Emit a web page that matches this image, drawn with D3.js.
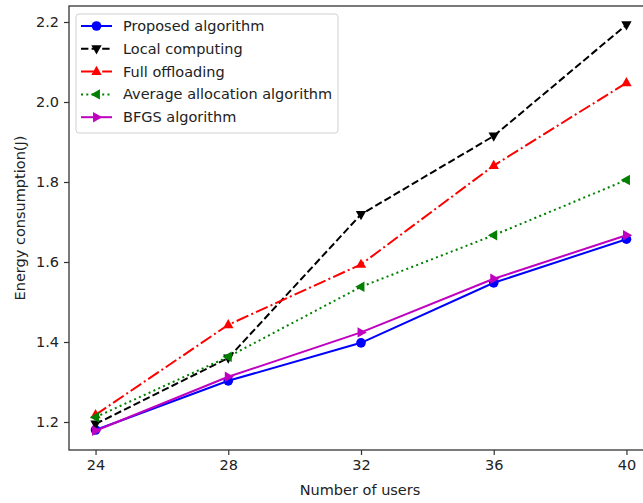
<!DOCTYPE html>
<html>
<head>
<meta charset="utf-8">
<script src="https://cdn.jsdelivr.net/npm/d3@7"></script>
<style>
  body { margin: 0; background: #fff; }
  svg { display: block; font-family: "DejaVu Sans", sans-serif; }
</style>
</head>
<body>
<script>
// data
var users = [24, 28, 32, 36, 40];
var proposed = [1.180, 1.303, 1.398, 1.548, 1.657];
var local = [1.195, 1.360, 1.719, 1.915, 2.193];
var fullOff = [1.218, 1.443, 1.594, 1.841, 2.048];
var average = [1.212, 1.363, 1.538, 1.667, 1.805];
var bfgs = [1.178, 1.313, 1.424, 1.558, 1.667];
var xTicks = [24, 28, 32, 36, 40];
var yTicks = [1.2, 1.4, 1.6, 1.8, 2.0, 2.2];

var series = [
	{name: 'Proposed algorithm', values: proposed, color: '#0000ff', dash: null, marker: 'circle'},
	{name: 'Local computing', values: local, color: '#000000', dash: '7.4,3.2', marker: 'down'},
	{name: 'Full offloading', values: fullOff, color: '#ff0000', dash: '12.8,3.2,2,3.2', marker: 'up'},
	{name: 'Average allocation algorithm', values: average, color: '#008000', dash: '2,3.3', marker: 'left'},
	{name: 'BFGS algorithm', values: bfgs, color: '#bf00bf', dash: null, marker: 'right'}
];

var W = 643, H = 503;
var margin = {left: 69, top: 6, bottom: 450, right: 653};
var fontSize = '14.5px';

var x = d3.scaleLinear().domain([23.2, 40.8]).range([margin.left, margin.right]);
var y = d3.scaleLinear().domain([1.13, 2.24]).range([margin.bottom, margin.top]);

var svg = d3.select('body').append('svg')
	.attr('width', W)
	.attr('height', H);

// axes
var xAxis = d3.axisBottom(x).tickValues(xTicks).tickSize(5).tickPadding(5).tickFormat(d3.format('d'));
var yAxis = d3.axisLeft(y).tickValues(yTicks).tickSize(5).tickPadding(5).tickFormat(d3.format('.1f'));

var gx = svg.append('g').attr('transform', 'translate(0,' + margin.bottom + ')').call(xAxis);
var gy = svg.append('g').attr('transform', 'translate(' + margin.left + ',0)').call(yAxis);
[gx, gy].forEach(function(g) {
	g.select('.domain').remove();
	g.selectAll('line').attr('stroke', '#333').attr('stroke-width', 1.2);
	g.selectAll('text').attr('fill', '#222').style('font-size', fontSize).style('font-family', '"DejaVu Sans", sans-serif');
});

// spines
svg.append('rect')
	.attr('x', margin.left).attr('y', margin.top)
	.attr('width', margin.right - margin.left).attr('height', margin.bottom - margin.top)
	.attr('fill', 'none').attr('stroke', '#333').attr('stroke-width', 1.3);

// axis labels
svg.append('text')
	.attr('x', 360).attr('y', 495)
	.attr('text-anchor', 'middle')
	.attr('fill', '#222')
	.style('font-size', fontSize)
	.text('Number of users');

svg.append('text')
	.attr('transform', 'translate(25,' + 218 + ') rotate(-90)')
	.attr('text-anchor', 'middle')
	.attr('fill', '#222')
	.style('font-size', fontSize)
	.text('Energy consumption(J)');

// markers
function markerPath(type, s) {
	if (type === 'circle') return d3.symbol().type(d3.symbolCircle).size(s * 1.15)();
	var r = Math.sqrt(s) * 0.72;
	var pts;
	if (type === 'up') pts = [[0, -r], [r * 0.9, r * 0.6], [-r * 0.9, r * 0.6]];
	if (type === 'down') pts = [[0, r], [r * 0.9, -r * 0.6], [-r * 0.9, -r * 0.6]];
	if (type === 'left') pts = [[-r, 0], [r * 0.6, r * 0.9], [r * 0.6, -r * 0.9]];
	if (type === 'right') pts = [[r, 0], [-r * 0.6, r * 0.9], [-r * 0.6, -r * 0.9]];
	return 'M' + pts.join('L') + 'Z';
}

var line = d3.line()
	.x(function(d, i) { return x(users[i]); })
	.y(function(d) { return y(d); });

var plot = svg.append('g');

series.forEach(function(s) {
	var g = plot.append('g');
	g.append('path')
		.datum(s.values)
		.attr('d', line)
		.attr('fill', 'none')
		.attr('stroke', s.color)
		.attr('stroke-width', 2)
		.attr('stroke-dasharray', s.dash);
	g.selectAll('path.mk')
		.data(s.values)
		.enter().append('path')
		.attr('class', 'mk')
		.attr('transform', function(d, i) { return 'translate(' + x(users[i]) + ',' + y(d) + ')'; })
		.attr('d', markerPath(s.marker, 64))
		.attr('fill', s.color);
});

// legend
var leg = svg.append('g');
leg.append('rect')
	.attr('x', 76).attr('y', 14)
	.attr('width', 262).attr('height', 119)
	.attr('rx', 3)
	.attr('fill', '#fff').attr('fill-opacity', 0.85)
	.attr('stroke', '#d0d0d0').attr('stroke-width', 1);

series.forEach(function(s, i) {
	var cy = 26 + i * 22.8;
	leg.append('line')
		.attr('x1', 81).attr('x2', 112)
		.attr('y1', cy).attr('y2', cy)
		.attr('stroke', s.color).attr('stroke-width', 2)
		.attr('stroke-dasharray', s.dash);
	leg.append('path')
		.attr('transform', 'translate(96.5,' + cy + ')')
		.attr('d', markerPath(s.marker, 64))
		.attr('fill', s.color);
	leg.append('text')
		.attr('x', 123).attr('y', cy)
		.attr('dy', '0.35em')
		.attr('fill', '#222')
		.style('font-size', fontSize)
		.text(s.name);
});
</script>
</body>
</html>
